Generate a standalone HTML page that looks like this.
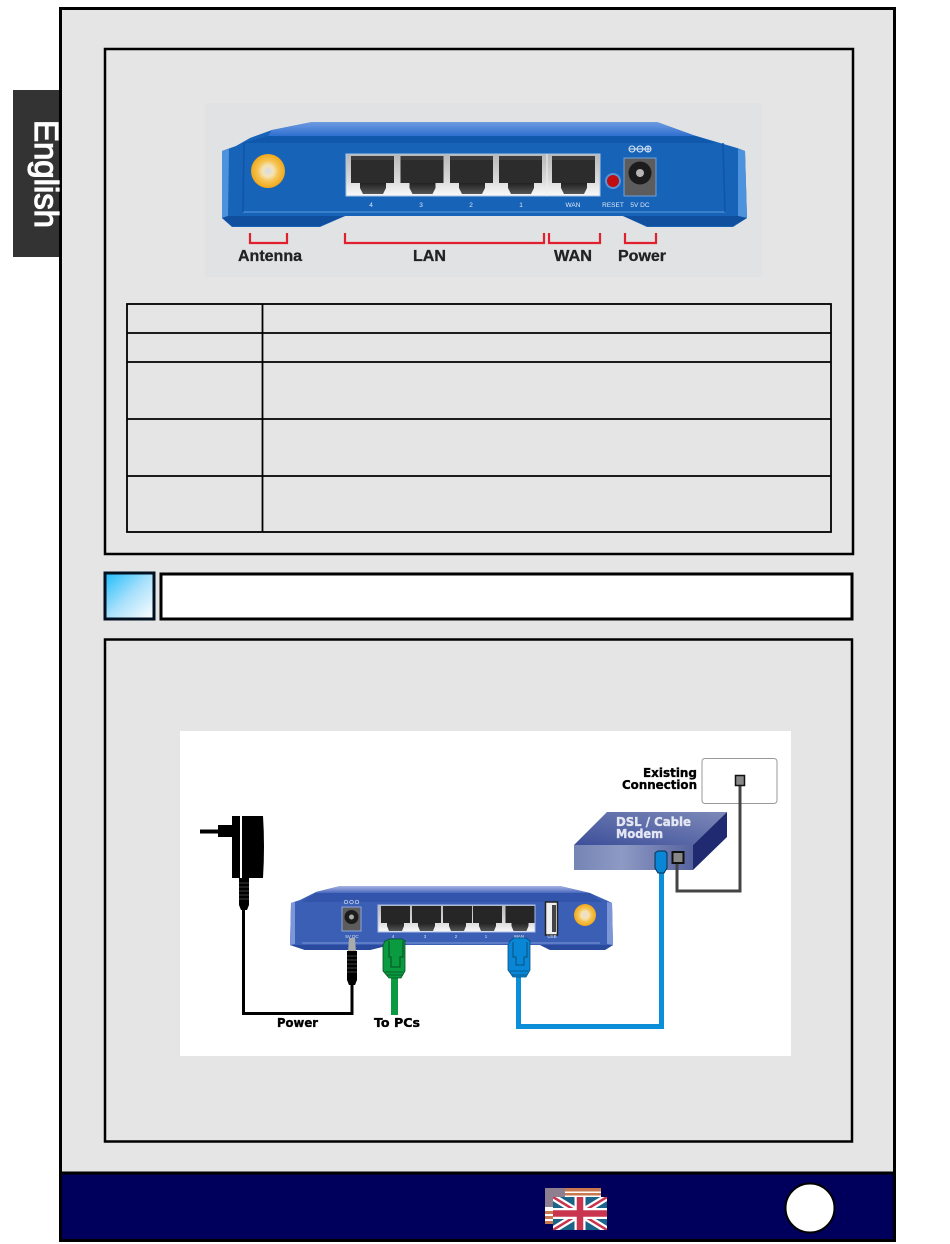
<!DOCTYPE html>
<html><head><meta charset="utf-8"><style>
html,body{margin:0;padding:0;background:#fff}
svg{display:block}
text{font-family:"Liberation Sans",sans-serif}
.dj{font-family:"DejaVu Sans",sans-serif;font-weight:bold;stroke-width:.35}
</style></head><body>
<svg width="950" height="1244" viewBox="0 0 950 1244" xmlns="http://www.w3.org/2000/svg">
<defs>
<linearGradient id="sq" x1="0" y1="0" x2="1" y2="1"><stop offset="0" stop-color="#1cbcfb"/><stop offset=".5" stop-color="#a8e0fb"/><stop offset="1" stop-color="#fff"/></linearGradient>
<linearGradient id="top1" x1="0" y1="0" x2="0" y2="1"><stop offset="0" stop-color="#6f9be0"/><stop offset="1" stop-color="#2f6fd0"/></linearGradient>
<linearGradient id="top2" x1="0" y1="0" x2="0" y2="1"><stop offset="0" stop-color="#a7b4e2"/><stop offset="1" stop-color="#4a68bd"/></linearGradient>
<linearGradient id="pnl" x1="0" y1="0" x2="0" y2="1"><stop offset="0" stop-color="#b8b8b8"/><stop offset=".6" stop-color="#d8d8d8"/><stop offset="1" stop-color="#fafafa"/></linearGradient>
<linearGradient id="neck" x1="0" y1="0" x2="0" y2="1"><stop offset="0" stop-color="#222"/><stop offset="1" stop-color="#555"/></linearGradient>
<linearGradient id="mf" x1="0" y1="0" x2="1" y2="0"><stop offset="0" stop-color="#7484b4"/><stop offset=".4" stop-color="#8e9ac4"/><stop offset="1" stop-color="#56639f"/></linearGradient>
<linearGradient id="mt" x1="0" y1="1" x2="1" y2="0"><stop offset="0" stop-color="#3d4f9a"/><stop offset="1" stop-color="#7d89b8"/></linearGradient>
<radialGradient id="gold"><stop offset="0" stop-color="#e8e0d0"/><stop offset=".35" stop-color="#f4e2b4"/><stop offset=".6" stop-color="#f6c455"/><stop offset="1" stop-color="#f0a818"/></radialGradient>
<clipPath id="ukc"><rect x="553" y="1197" width="54" height="33"/></clipPath>
<g id="port"><rect width="43" height="27" fill="#2c2c2c"/><path d="M0 0H43V4H0Z" fill="#3c3c3c"/><path d="M9 27H35V32L32 38H12L9 32Z" fill="url(#neck)"/></g>
<g id="port2"><rect width="29" height="17" fill="#262626"/><path d="M6 17H23V20L21 25H8L6 20Z" fill="url(#neck)"/></g>
</defs>

<!-- tab -->
<rect x="13" y="90" width="48" height="167" fill="#333"/>
<!-- page -->
<rect x="60.500" y="8.500" width="834" height="1232" fill="#e5e5e5" stroke="#000" stroke-width="3"/>
<text transform="translate(35 120) rotate(90)" font-size="33" fill="#fff" stroke="#fff" stroke-width="1.200" textLength="108" lengthAdjust="spacing">English</text>

<!-- box 1 -->
<rect x="105" y="49" width="748" height="505" fill="#e5e5e5" stroke="#000" stroke-width="2.500"/>
<rect x="205" y="103" width="557" height="174" fill="#e1e2e3"/>

<!-- router 1 -->
<path d="M222 151L236 146 250 138 272 130 312 122H657L693 135 737 148 745 151 747 218 733 227H647L623 216H345L320 227H232L222 218Z" fill="#1763b8"/>
<path d="M268 136L272 130 312 122H657L693 135 695 136Z" fill="url(#top1)"/>
<path d="M243 143L268 136H695L716 143Z" fill="#0f58ac"/>
<path d="M222 151L229 149 228 216 222 218Z" fill="#4d92dc"/>
<path d="M745 151L738 149 738 216 747 218Z" fill="#4d92dc"/>
<path d="M222 218L232 226H320L345 216H228Z" fill="#0f4f9e"/>
<path d="M747 218L733 226H647L623 216H738Z" fill="#0f4f9e"/>
<path d="M243 212H725" stroke="#5e9be0" stroke-width="1"/>
<path d="M244 143L243 212M723 143L725 212" stroke="#0f55a6" stroke-width="1.500"/>
<circle cx="268" cy="171" r="17" fill="url(#gold)"/>
<circle cx="268" cy="171" r="3" fill="#ddd"/>
<rect x="346" y="154" width="254" height="42" fill="url(#pnl)" stroke="#a9c4e4" stroke-width="1"/>
<rect x="546.500" y="154" width="1" height="42" fill="#eee"/>
<use href="#port" x="351" y="156"/><use href="#port" x="400.500" y="156"/><use href="#port" x="450" y="156"/><use href="#port" x="499" y="156"/><use href="#port" x="552" y="156"/>
<g fill="#dfe9f6" font-size="6.500" text-anchor="middle">
<text x="371" y="207">4</text><text x="421" y="207">3</text><text x="471" y="207">2</text><text x="521" y="207">1</text><text x="573" y="207">WAN</text><text x="613" y="207">RESET</text><text x="640" y="207">5V DC</text>
</g>
<circle cx="613" cy="181" r="8" fill="#5b93d4"/><circle cx="613" cy="181" r="6" fill="#c00d12"/>
<rect x="624" y="158" width="32" height="38" fill="#5c5c5c" stroke="#6ea2dc"/>
<circle cx="640" cy="173" r="11.500" fill="#1c1c1c"/><circle cx="640" cy="173" r="4" fill="#b5b5b5"/>
<g stroke="#dfe9f6" fill="none" stroke-width="1"><circle cx="632" cy="149" r="3"/><circle cx="640" cy="149" r="3"/><circle cx="648" cy="149" r="3"/><path d="M629 149H651M648 146V152"/></g>

<!-- brackets -->
<g fill="none" stroke="#e0202e" stroke-width="2.200">
<path d="M250 233V243H287V233"/><path d="M345 233V243H544V233"/><path d="M549 233V243H600V233"/><path d="M625 233V243H656V233"/>
</g>
<g font-size="15.500" font-weight="bold" fill="#222" stroke="#222" stroke-width=".3">
<text x="238" y="261" textLength="64" lengthAdjust="spacingAndGlyphs">Antenna</text>
<text x="413" y="261" textLength="33" lengthAdjust="spacingAndGlyphs">LAN</text>
<text x="554" y="261" textLength="38" lengthAdjust="spacingAndGlyphs">WAN</text>
<text x="618" y="261" textLength="48" lengthAdjust="spacingAndGlyphs">Power</text>
</g>

<!-- table -->
<g fill="none" stroke="#000" stroke-width="1.800">
<rect x="127" y="304" width="704" height="228"/>
<path d="M262.500 304V532M127 333H831M127 362H831M127 419H831M127 476H831"/>
</g>

<!-- heading -->
<rect x="105" y="573" width="49" height="46" fill="url(#sq)" stroke="#001020" stroke-width="3"/>
<rect x="161" y="574" width="691" height="45" fill="#fff" stroke="#000" stroke-width="3"/>

<!-- box 2 -->
<rect x="105" y="639.500" width="747" height="502" fill="#e5e5e5" stroke="#000" stroke-width="2.500"/>
<rect x="180" y="731" width="611" height="325" fill="#fff"/>

<!-- wall -->
<rect x="702" y="758.500" width="75" height="45" rx="3" fill="#fff" stroke="#999"/>
<text class="dj" x="643" y="777" font-size="12" fill="#000" stroke="#000" textLength="54" lengthAdjust="spacingAndGlyphs">Existing</text>
<text class="dj" x="622" y="789" font-size="12" fill="#000" stroke="#000" textLength="75" lengthAdjust="spacingAndGlyphs">Connection</text>

<!-- modem -->
<path d="M574 845L607 812H727L693 845Z" fill="url(#mt)"/>
<rect x="574" y="845" width="119" height="25" fill="url(#mf)"/>
<path d="M693 845L727 812V837L693 870Z" fill="#1f2a70"/>
<text class="dj" x="616" y="826" font-size="12" fill="#e4e7f2" stroke="#e4e7f2" textLength="75" lengthAdjust="spacingAndGlyphs">DSL / Cable</text>
<text class="dj" x="616" y="838" font-size="12" fill="#e4e7f2" stroke="#e4e7f2" textLength="47" lengthAdjust="spacingAndGlyphs">Modem</text>

<!-- grey cable -->
<path d="M677 862V891H740V784" fill="none" stroke="#444" stroke-width="3"/>
<rect x="735.500" y="775.500" width="9" height="10" fill="#888" stroke="#111" stroke-width="1.500"/>
<rect x="672.500" y="852" width="11" height="11" fill="#888" stroke="#111" stroke-width="2"/>

<!-- router 2 -->
<path d="M291 903L300 900 316 892 340 886H560L590 893 608 901 612 903 613 945 605 950H550L540 945H390L370 950H305L290 945Z" fill="#3a5fb4"/>
<path d="M316 893V892L340 886H560L590 893Z" fill="url(#top2)"/>
<path d="M302 902L316 893H590L602 902Z" fill="#3254aa"/>
<path d="M291 903L295 902 295 944 290 945Z" fill="#7c96d6"/>
<path d="M612 903L607 902 607 944 613 945Z" fill="#7c96d6"/>
<path d="M302 943H600" stroke="#7d99dc" stroke-width="1"/>
<path d="M290 945L305 950H370L390 945Z" fill="#2a4a9e"/><path d="M613 945L605 950H550L540 945Z" fill="#2a4a9e"/>
<rect x="342" y="907" width="19" height="24" fill="#5c5c5c" stroke="#8fa7de"/>
<circle cx="351.500" cy="917" r="7" fill="#1c1c1c"/><circle cx="351.500" cy="917" r="2.500" fill="#aaa"/>
<g stroke="#dfe6f6" fill="none" stroke-width=".7"><circle cx="346" cy="902" r="1.800"/><circle cx="351.500" cy="902" r="1.800"/><circle cx="357" cy="902" r="1.800"/></g>
<rect x="378" y="905" width="157" height="27" fill="url(#pnl)" stroke="#a9bde8" stroke-width="1"/>
<use href="#port2" x="381" y="906"/><use href="#port2" x="412" y="906"/><use href="#port2" x="443" y="906"/><use href="#port2" x="473" y="906"/><use href="#port2" x="505.500" y="906"/>
<rect x="545.500" y="902" width="12" height="33" fill="#f0f0f0" stroke="#222" stroke-width="1.500"/>
<rect x="552" y="905" width="4" height="27" fill="#444"/>
<circle cx="585" cy="915" r="11" fill="url(#gold)"/>
<g fill="#dfe6f6" font-size="4.500" text-anchor="middle">
<text x="352" y="938">5V DC</text><text x="393" y="938">4</text><text x="425" y="938">3</text><text x="456" y="938">2</text><text x="486" y="938">1</text><text x="519" y="938">WAN</text><text x="552" y="938">USB</text>
</g>

<!-- adapter -->
<rect x="200" y="829.500" width="19" height="4" fill="#000"/>
<rect x="218" y="825" width="15" height="12" fill="#000"/>
<rect x="232" y="816" width="8" height="62" fill="#000"/>
<path d="M242 816H263Q265 846 263 878H242Z" fill="#000"/>
<path d="M239 878H249V905L247 910H241L239 905Z" fill="#000"/>
<g stroke="#555" stroke-width=".8"><path d="M239 883H249M239 887H249M239 891H249M239 895H249M239 899H249"/></g>
<path d="M243.500 908V1013.500H352V982" fill="none" stroke="#000" stroke-width="3"/>
<path d="M349 938H355L356 952H348Z" fill="#aaa"/>
<path d="M347 951H357V980L355 985H349L347 980Z" fill="#000"/>
<g stroke="#555" stroke-width=".8"><path d="M347 956H357M347 960H357M347 964H357M347 968H357M347 972H357"/></g>

<!-- green -->
<rect x="391" y="976" width="7" height="39" fill="#0a9a40"/>
<path d="M385 941L390 939H402L405 941V971L401 978H389L383 971V945Z" fill="#0a9a40" stroke="#064f22" stroke-width=".8"/>
<path d="M389 941V957H391V967H400V957H403V941" fill="none" stroke="#064f22" stroke-width="1"/>
<path d="M385 972H403M387 975H402" stroke="#064f22" stroke-width=".8"/>

<!-- blue -->
<path d="M518.500 975V1026.500H661.500V868" fill="none" stroke="#0a8fd8" stroke-width="5"/>
<path d="M510 941L514 938H526L530 941V970L526 977H513L508 970V945Z" fill="#0a86d6" stroke="#05507f" stroke-width=".8"/>
<path d="M513 942V957H516V965H524V957H527V942" fill="none" stroke="#05507f" stroke-width="1"/>
<path d="M510 971H528M512 975H526" stroke="#05507f" stroke-width=".8"/>
<path d="M655 853L658 851H665L667 853V868L664 873H658L655 868Z" fill="#0a86d6" stroke="#05304f" stroke-width="1"/>

<text class="dj" x="277" y="1027" font-size="12" fill="#000" stroke="#000" textLength="41" lengthAdjust="spacingAndGlyphs">Power</text>
<text class="dj" x="374" y="1027" font-size="12" fill="#000" stroke="#000" textLength="46" lengthAdjust="spacingAndGlyphs">To PCs</text>

<!-- footer -->
<rect x="60.500" y="1173" width="834" height="67.500" fill="#00005c" stroke="#000" stroke-width="3"/>
<circle cx="810" cy="1208" r="24.500" fill="#fff" stroke="#000" stroke-width="2"/>
<!-- flags -->
<rect x="545" y="1188" width="56" height="36" fill="#fff"/>
<g fill="#c9784f"><rect x="565" y="1188" width="36" height="3.500"/><rect x="565" y="1193" width="36" height="2.500"/><rect x="565" y="1197" width="36" height="2"/><rect x="545" y="1211" width="10" height="3"/><rect x="545" y="1216" width="10" height="3"/><rect x="545" y="1221" width="10" height="3"/></g>
<rect x="545" y="1188" width="20" height="19" fill="#8e7f90"/>
<g clip-path="url(#ukc)">
<rect x="553" y="1197" width="54" height="33" fill="#1a6489"/>
<path d="M553 1197L607 1230M607 1197L553 1230" stroke="#fff" stroke-width="7"/>
<path d="M553 1197L607 1230M607 1197L553 1230" stroke="#c9344f" stroke-width="2.500"/>
<path d="M580 1197V1230M553 1213.500H607" stroke="#fff" stroke-width="11"/>
<path d="M580 1197V1230M553 1213.500H607" stroke="#c9344f" stroke-width="6.500"/>
</g>
</svg>
</body></html>
